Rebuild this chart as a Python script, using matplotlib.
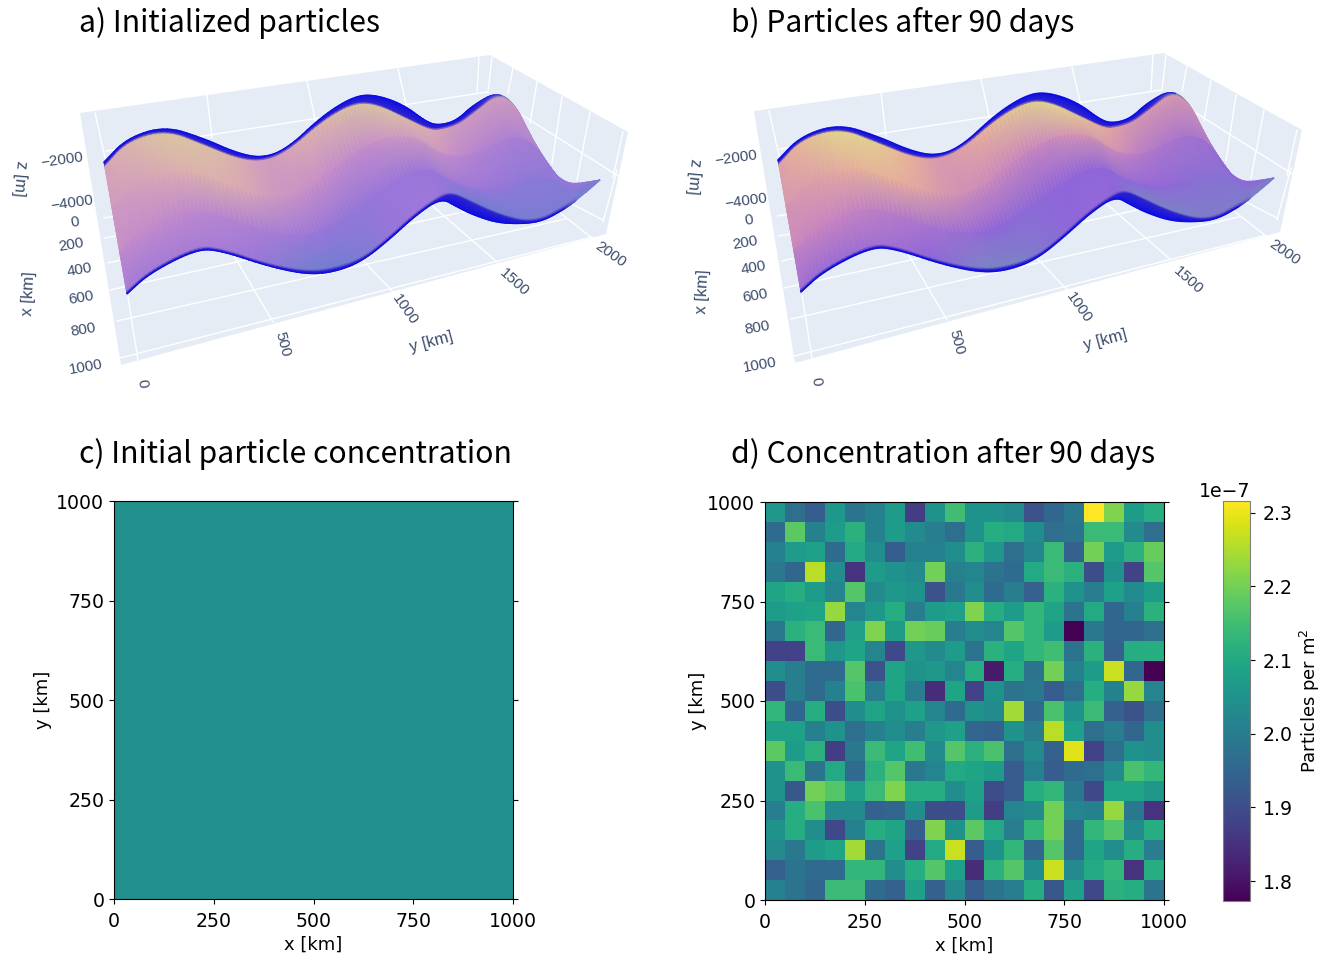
import matplotlib
matplotlib.use("Agg")
import matplotlib.pyplot as plt
from matplotlib.colors import LinearSegmentedColormap
from matplotlib.patches import Polygon
import numpy as np

W, H = 1325, 955

titles = ["a) Initialized particles", "b) Particles after 90 days",
          "c) Initial particle concentration", "d) Concentration after 90 days"]

# concentration after 90 days, 1e-7 per m2, top row (y=1000) first
conc_rows = [
    [2.06, 1.97, 1.93, 2.06, 1.98, 2.01, 2.07, 1.87, 2.05, 2.15, 2.05, 2.05, 2.03, 1.91, 1.95, 1.99, 2.316, 2.21, 2.07, 2.11],
    [1.96, 2.18, 2.01, 2.07, 2.12, 2.01, 2.07, 2.03, 2.00, 1.97, 2.05, 2.11, 2.10, 2.04, 1.97, 1.98, 2.14, 2.14, 2.03, 1.97],
    [2.01, 2.07, 2.08, 1.96, 2.10, 2.04, 1.93, 2.01, 2.01, 2.04, 2.12, 2.06, 1.97, 2.02, 2.14, 1.94, 2.20, 2.07, 2.12, 2.19],
    [1.99, 1.95, 2.26, 2.04, 1.85, 2.07, 2.05, 2.03, 2.20, 2.01, 2.02, 1.98, 1.96, 2.10, 2.14, 2.12, 1.90, 2.05, 1.88, 2.17],
    [2.09, 2.11, 2.07, 2.02, 2.17, 2.03, 2.06, 2.05, 1.91, 1.99, 2.04, 1.96, 2.00, 1.94, 2.12, 2.05, 2.00, 2.08, 2.03, 2.07],
    [2.07, 2.08, 2.09, 2.23, 2.02, 2.06, 2.11, 2.00, 2.07, 2.08, 2.21, 2.11, 2.07, 2.13, 2.09, 1.98, 2.10, 1.95, 2.01, 2.12],
    [1.99, 2.12, 2.14, 1.95, 2.08, 2.21, 2.07, 2.20, 2.19, 2.00, 2.04, 2.02, 2.17, 2.13, 2.07, 1.775, 1.99, 1.95, 1.95, 1.97],
    [1.88, 1.88, 2.14, 2.06, 2.09, 2.02, 1.89, 2.06, 2.03, 2.07, 1.98, 2.12, 2.09, 2.13, 2.15, 1.98, 2.12, 1.94, 2.11, 2.11],
    [2.04, 2.00, 1.96, 1.96, 2.17, 1.91, 2.09, 2.05, 2.06, 2.02, 2.11, 1.81, 2.11, 1.98, 2.20, 2.01, 2.07, 2.27, 1.95, 1.773],
    [1.90, 2.00, 1.96, 2.01, 2.16, 2.00, 2.09, 2.00, 1.84, 2.09, 1.88, 2.05, 1.98, 1.99, 1.93, 1.97, 2.11, 2.01, 2.23, 2.02],
    [2.13, 1.95, 2.11, 1.90, 2.04, 2.09, 2.05, 2.08, 2.02, 1.96, 2.05, 2.03, 2.24, 1.96, 2.16, 2.05, 2.14, 1.94, 1.91, 1.97],
    [2.08, 2.08, 2.01, 2.05, 1.97, 2.01, 2.04, 2.00, 2.06, 2.08, 1.95, 1.94, 2.05, 2.00, 2.26, 2.08, 1.97, 2.00, 1.95, 2.04],
    [2.18, 2.07, 2.12, 1.87, 1.99, 2.14, 2.09, 2.15, 2.03, 2.17, 2.12, 2.16, 1.97, 2.03, 1.94, 2.29, 1.88, 1.97, 2.05, 2.04],
    [2.05, 2.14, 1.98, 2.10, 1.96, 2.12, 2.17, 1.99, 2.02, 2.10, 2.09, 2.07, 1.93, 2.01, 1.93, 1.96, 1.97, 2.03, 2.16, 2.13],
    [2.05, 1.92, 2.20, 2.17, 2.08, 2.14, 2.21, 2.11, 2.11, 2.04, 2.08, 1.90, 1.93, 2.11, 2.13, 1.99, 1.89, 2.09, 2.09, 2.06],
    [2.00, 2.11, 2.16, 2.03, 2.03, 1.94, 1.95, 2.04, 1.90, 1.90, 2.07, 1.87, 2.02, 2.03, 2.20, 2.02, 2.01, 2.23, 1.99, 1.85],
    [2.05, 2.11, 2.04, 1.89, 2.01, 2.11, 2.09, 1.93, 2.21, 2.05, 2.18, 2.10, 2.00, 2.13, 2.20, 1.96, 2.13, 2.17, 2.03, 2.11],
    [2.03, 1.99, 2.07, 2.09, 2.24, 1.98, 2.08, 1.88, 2.10, 2.27, 1.93, 2.05, 2.13, 1.95, 2.17, 1.96, 2.09, 2.04, 2.11, 2.00],
    [1.94, 1.98, 1.96, 1.96, 2.13, 2.13, 2.04, 2.11, 2.17, 2.08, 1.84, 2.12, 2.17, 2.04, 2.27, 2.03, 2.10, 2.13, 1.85, 2.11],
    [2.01, 1.98, 1.95, 2.14, 2.14, 1.96, 1.94, 2.08, 1.94, 2.03, 1.93, 1.98, 2.00, 2.11, 1.92, 2.08, 1.89, 2.12, 2.11, 1.98],
]
conc_min, conc_max = 1.773, 2.316
map_ticks = [0, 250, 500, 750, 1000]
cbar_ticks = [1.8, 1.9, 2.0, 2.1, 2.2, 2.3]

# seamount ridge as seen on screen (panel a pixels): far edge, near edge
far_x = [104, 127, 165, 203, 237, 263, 288, 322, 352, 373, 403, 428, 441, 457, 473, 498, 517, 530, 552, 568, 600]
far_y = [162, 138, 126, 138, 153, 158, 148, 116, 97, 94, 104, 123, 125, 120, 105, 91, 107, 137, 175, 185, 180]
near_x = [127, 150, 197, 222, 270, 310, 339, 364, 390, 415, 441, 457, 473, 497, 523, 543, 563, 573, 580, 590, 600]
near_y = [294, 273, 249, 251, 267, 275, 271, 260, 239, 216, 198, 207, 215, 223, 224, 221, 210, 203, 197, 189, 180]
far_band = [3, 2, 3, 6, 5, 2, 1, 3, 5, 9, 15, 6, 3, 3, 5, 1, 0, 0, 0, 0, 0]
near_band = [1, 1, 1, 1, 1, 2, 2, 1, 1, 1, 1, 13, 14, 10, 2, 1, 1, 0, 0, 0, 0]
far_edge = [0, 0, 0, 0, 0, 0, 0, 0, 0, 0, 0, 0, 0, 0, 0, .2, .6, .65, .5, .42, .35]
near_edge = [0, 0, 0, 0, 0, 0, 0, 0, 0, 0, 0, 0, 0, 0, 0, 0, .05, .2, .3, .33, .35]

# particle colour along the ridge, far side to near side
shade_rows = [
    [.75, .85, .97, .92, .80, .70, .75, .85, .93, .97, .88, .80, .75, .70, .70, .72, .72, .65, .50, .42, .35],
    [.70, .72, .80, .82, .76, .68, .65, .62, .62, .68, .70, .68, .62, .55, .52, .50, .48, .45, .42, .40, .35],
    [.62, .62, .60, .56, .50, .45, .42, .40, .42, .42, .42, .42, .42, .42, .40, .38, .38, .38, .38, .36, .33],
    [.46, .46, .48, .48, .40, .29, .28, .33, .40, .44, .44, .36, .28, .28, .30, .32, .32, .32, .32, .32, .32],
]

z_labels = ["\u22122000", "\u22124000"]
x_labels = ["0", "200", "400", "600", "800", "1000"]
y_labels = ["0", "500", "1000", "1500", "2000"]

plt.rcParams["font.family"] = "DejaVu Sans"
fig = plt.figure(figsize=(W / 100, H / 100), dpi=100)


def box(left, top, right, bottom):
    return [left / W, 1 - bottom / H, (right - left) / W, (bottom - top) / H]


def smooth(a, n=3):
    # corner cutting so the ridge does not look polygonal
    a = np.asarray(a, dtype=float)
    for _ in range(n):
        a = np.concatenate([a[:1], np.ravel(np.column_stack([.75 * a[:-1] + .25 * a[1:],
                                                              .25 * a[:-1] + .75 * a[1:]])), a[-1:]])
    return a


bg = fig.add_axes([0, 0, 1, 1])
bg.set_xlim(0, W)
bg.set_ylim(H, 0)
bg.axis("off")

ridge_a = LinearSegmentedColormap.from_list("ridge_a", [
    (0, "#0a0ae6"), (.12, "#3b2cc8"), (.28, "#6f7fd0"), (.42, "#9a76da"),
    (.62, "#c48ccc"), (.8, "#dcaeb0"), (1, "#d8cc9c")])
ridge_b = LinearSegmentedColormap.from_list("ridge_b", [
    (0, "#0a0ae6"), (.12, "#3b2cc8"), (.28, "#7a86c4"), (.42, "#8f66da"),
    (.62, "#c886c0"), (.8, "#e6ae9c"), (1, "#dfe08a")])


def draw_ridge(dx, dy, cmap, fuzz):
    # pane
    bg.add_patch(Polygon([(80 + dx, 113 + dy), (490 + dx, 55 + dy), (628 + dx, 132 + dy),
                          (606 + dx, 234 + dy), (121 + dx, 365 + dy)], fc="#E5ECF6", ec="none", zorder=1))
    # white grid, pane by pane
    grid = [
        ((95, 113), (106, 162)), ((207, 95), (212, 138)), ((307, 81), (316, 123)),
        ((398, 69), (407, 108)), ((479, 57), (477, 92)), ((492, 57), (488, 92)),
        ((106, 151), (487, 92)), ((522, 115), (620, 177)), ((570, 203), (603, 220)),
        ((513, 68), (508, 93)), ((537, 82), (530, 123)), ((562, 97), (552, 163)),
        ((590, 112), (577, 180)), ((623, 132), (613, 177)), ((617, 170), (603, 222)),
        ((104, 218), (500, 150)), ((105, 238), (500, 165)), ((108, 263), (500, 172)),
        ((110, 290), (540, 195)), ((117, 321), (565, 219)), ((120, 358), (592, 237)),
        ((138, 360), (128, 297)), ((273, 322), (210, 215)), ((396, 295), (310, 205)),
        ((497, 262), (420, 195)), ((592, 238), (555, 209)),
    ]
    for p, q in grid:
        bg.plot([p[0] + dx, q[0] + dx], [p[1] + dy, q[1] + dy], color="white", lw=1.0, zorder=2)

    fx, fy, nx, ny = (np.array(a, dtype=float) for a in (far_x, far_y, near_x, near_y))
    span = np.maximum(ny - fy, 1.0)
    t_band = np.array(far_band) / span
    t_fold = 1 - np.array(near_band) / span
    fracs = [np.zeros_like(span), t_band, t_band + 2 / span, np.full_like(span, .35),
             np.full_like(span, .68), t_fold - 2 / span, t_fold, np.ones_like(span)]
    fracs = np.maximum.accumulate(np.clip(fracs, 0, 1), axis=0)
    far0, near0 = np.array(far_edge), np.array(near_edge)
    shades = [far0, np.maximum(far0, .11)] + [np.array(r) for r in shade_rows] + [np.maximum(near0, .11), near0]

    X = np.array([smooth(fx + f * (nx - fx)) for f in fracs]) + dx
    Y = np.array([smooth(fy + f * (ny - fy)) for f in fracs]) + dy
    C = np.array([smooth(s) for s in shades])
    bg.pcolormesh(X, Y, C, shading="gouraud", cmap=cmap, vmin=0, vmax=1, zorder=3)
    cut = X.shape[1] * 15 // 20
    bg.plot(X[0][:cut], Y[0][:cut], color="#0a0ae6", lw=fuzz, alpha=.7, zorder=4)
    bg.plot(X[-1][:cut + 8], Y[-1][:cut + 8], color="#0a0ae6", lw=fuzz, alpha=.7, zorder=4)

    # axis text
    tc = "#3b4c6b"
    kw = dict(color=tc, family="Liberation Sans", ha="center", va="center", zorder=5)
    for lab, px, py in zip(z_labels, [62, 72], [160, 203]):
        bg.text(px + dx, py + dy, lab, rotation=8, fontsize=11, **kw)
    for lab, px, py in zip(x_labels, [75, 71, 79, 81, 83, 86], [222, 245, 270, 298, 330, 367]):
        bg.text(px + dx, py + dy, lab, rotation=10, fontsize=11, **kw)
    for lab, px, py, r in zip(y_labels, [142, 283, 405, 514, 610], [383, 344, 310, 282, 254], [-80, -75, -55, -42, -35]):
        bg.text(px + dx, py + dy, lab, rotation=r, fontsize=11, **kw)
    bg.text(20 + dx, 178 + dy, "z [m]", rotation=-95, fontsize=12, **kw)
    bg.text(29 + dx, 294 + dy, "x [km]", rotation=87, fontsize=12, **kw)
    bg.text(431 + dx, 342 + dy, "y [km]", rotation=15, fontsize=12, **kw)


draw_ridge(0, 0, ridge_a, .7)
draw_ridge(674, -2, ridge_b, 1.1)

for txt, px, py in zip(titles, [79, 731, 79, 731], [23, 23, 454, 454]):
    bg.text(px, py, txt, fontsize=21.7, family="Noto Sans CJK SC", ha="left", va="center", color="black")

conc = np.array(conc_rows)[::-1]
edges = np.linspace(0, 1000, 21)
uniform = np.full(conc.shape, (conc_min + conc_max) / 2)

panels = [(box(114, 501, 513, 899), uniform, 3), (box(765, 502, 1164, 900), conc, 0)]
for pos, field, ypad in panels:
    ax = fig.add_axes(pos)
    mesh = ax.pcolormesh(edges, edges, field * 1e-7, cmap="viridis", vmin=conc_min * 1e-7, vmax=conc_max * 1e-7)
    ax.set_xticks(map_ticks)
    ax.set_yticks(map_ticks)
    ax.tick_params(labelsize=13.6, right=True)
    ax.tick_params(axis="x", pad=5.5)
    ax.set_xlabel("x [km]", fontsize=13, labelpad=4)
    ax.set_ylabel("y [km]", fontsize=13, labelpad=ypad)

cax = fig.add_axes(box(1223, 501, 1250, 901))
cb = fig.colorbar(mesh, cax=cax)
cb.set_ticks([t * 1e-7 for t in cbar_ticks])
cb.ax.tick_params(labelsize=13.6, pad=5.5)
cb.ax.yaxis.get_offset_text().set_fontsize(13.6)
cb.outline.set_edgecolor("#808080")
cb.set_label("Particles per m$^2$", fontsize=13, labelpad=4)

fig.savefig("out.png", dpi=100)
